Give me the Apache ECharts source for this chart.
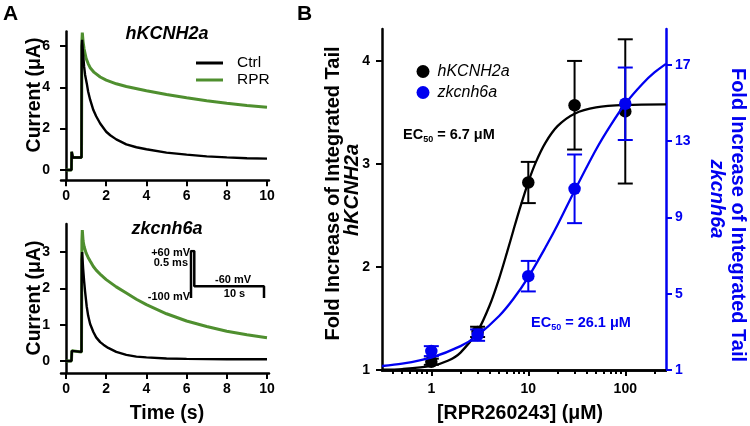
<!DOCTYPE html>
<html><head><meta charset="utf-8">
<script src="https://cdn.jsdelivr.net/npm/echarts@6/dist/echarts.min.js"></script>
<style>html,body{margin:0;padding:0;background:#fff}#c{width:750px;height:426px}</style>
</head><body><div id="c"></div>
<script>
const FONT = '"Liberation Sans", Arial, sans-serif';
const BLUE = '#0000f0', GREEN = '#4f8f2f';

// Panel A, hKCNH2a traces (time s, current uA)
const tCtrlA = [0,0.27,0.28,0.31,0.34,0.77,0.78,0.8,0.85,0.9,0.95,1.03,1.1,1.2,1.36,1.5,1.7,2.0,2.2,2.5,3.0,3.5,4,5,6,7,8,9,10];
const ctrlA  = [0,0,0.88,0.8,0.6,0.6,6.0,6.3,5.6,5.0,4.6,4.2,3.8,3.4,2.9,2.6,2.25,1.85,1.68,1.48,1.24,1.1,1.0,0.84,0.74,0.66,0.61,0.57,0.55];
const tRprA  = [0,0.27,0.28,0.31,0.34,0.77,0.79,0.81,0.85,0.9,1.0,1.1,1.2,1.4,1.7,2.0,2.5,3,4,5,6,7,8,9,10];
const rprA   = [0,0,0.88,0.8,0.6,0.6,6.2,6.65,6.2,5.85,5.4,5.15,4.95,4.72,4.5,4.35,4.17,4.04,3.83,3.65,3.49,3.35,3.23,3.12,3.03];
// Panel A, zkcnh6a traces
const tCtrlB = [0,0.27,0.29,0.33,0.77,0.78,0.8,0.85,0.9,0.95,1.03,1.1,1.2,1.36,1.5,1.7,1.86,2.1,2.5,3.0,3.5,4,5,6,8,10];
const ctrlB  = [0,0,0.28,0.25,0.25,2.8,3.0,2.55,2.2,1.9,1.5,1.25,1.02,0.8,0.65,0.52,0.45,0.36,0.25,0.17,0.12,0.1,0.07,0.06,0.05,0.05];
const tRprB  = [0,0.27,0.29,0.33,0.77,0.79,0.81,0.85,0.9,1.0,1.1,1.2,1.36,1.5,1.75,2.0,2.5,3,3.5,4,5,6,7,8,9,10];
const rprB   = [0,0,0.28,0.25,0.25,3.3,3.6,3.3,3.15,2.97,2.85,2.75,2.6,2.5,2.36,2.24,2.04,1.87,1.7,1.55,1.3,1.1,0.95,0.82,0.72,0.64];
// voltage protocol inset (schematic time, mV)
const protoTime = [0,0,0.45,0.45,10,10];
const protoVolt = [-100,60,60,-60,-60,-100];

// Panel B dose response
const conc  = [1,3,10,30,100];
const hMean = [1.08,1.37,2.82,3.57,3.51];
const hErr  = [0.03,0.05,0.2,0.43,0.7];
const zMean = [1.99,2.83,5.92,10.5,14.96];
const zErr  = [0.26,0.3,0.8,1.8,1.9];
const hFitConc = [0.31,0.5,1,1.5,2,3,4,5,6,7,8,10,12,15,20,30,50,100,263];
const hFit     = [1.003,1.009,1.039,1.092,1.169,1.377,1.628,1.888,2.134,2.352,2.538,2.824,3.02,3.205,3.367,3.488,3.549,3.573,3.579];
const zFitConc = [0.31,0.5,1,2,3,5,7,10,15,20,30,50,70,100,150,200,263];
const zFit     = [1.21,1.33,1.65,2.25,2.82,3.83,4.72,5.87,7.42,8.6,10.4,12.56,13.8,14.96,16.0,16.6,17.05];

// ticks
const xTicksA = [0,2,4,6,8,10];
const yTicksATop = [0,2,4,6];
const yTicksABot = [0,1,2,3];
const xMajorB = [1,10,100];
const xMinorB = [0.4,0.5,0.6,0.7,0.8,0.9,2,3,4,5,6,7,8,9,20,30,40,50,60,70,80,90,200];
const yTicksBL = [1,2,3,4];
const yTicksBR = [1,5,9,13,17];

const zip = (a,b) => a.map((v,i)=>[v,b[i]]);
const lg = v => Math.log10(v);

function axis(o, color, ticks, tickLen, labelMargin, showLabel){
  color = color || '#000';
  return Object.assign({
    type:'value', splitLine:{show:false},
    axisLine:{show:true, onZero:false, lineStyle:{color:color, width:2.5}},
    axisTick:{show:true, length:tickLen, customValues:ticks, lineStyle:{color:color, width:2}},
    axisLabel:{show:showLabel!==false, customValues:ticks, margin:labelMargin, color:color, fontFamily:FONT, fontWeight:'bold', fontSize:14}
  }, o);
}

const chart = echarts.init(document.getElementById('c'), null, {renderer:'canvas'});

function errSeries(color, yIdx, mean, err){
  return {
    type:'custom', xAxisIndex:2, yAxisIndex:yIdx, z:3,
    data: conc.map((c,i)=>[lg(c), mean[i]-err[i], mean[i]+err[i]]),
    encode:{x:0, y:[1,2]},
    renderItem:(params, api)=>{
      const x = api.value(0);
      const a = api.coord([x, api.value(1)]), b = api.coord([x, api.value(2)]);
      const hw = 7.5, st = {stroke:color, lineWidth:2};
      return {type:'group', children:[
        {type:'line', shape:{x1:a[0],y1:a[1],x2:b[0],y2:b[1]}, style:st},
        {type:'line', shape:{x1:a[0]-hw,y1:a[1],x2:a[0]+hw,y2:a[1]}, style:st},
        {type:'line', shape:{x1:b[0]-hw,y1:b[1],x2:b[0]+hw,y2:b[1]}, style:st}
      ]};
    }
  };
}

function trace(name, color, width, xi, t, v){
  return {name:name, type:'line', xAxisIndex:xi, yAxisIndex:xi, color:color,
    data:zip(t,v), showSymbol:false, symbol:'none', lineStyle:{color:color, width:width}};
}

const option = {
  animation:false,
  grid:[
    {left:61, top:31.5, width:208, height:148.8},
    {left:61, top:224, width:208, height:149},
    {left:382, top:29, width:284, height:341},
    {left:191, top:251, width:73, height:47}
  ],
  xAxis:[
    axis({gridIndex:0, min:-0.25, max:10.1}, '#000', xTicksA, 6, 9),
    axis({gridIndex:1, min:-0.25, max:10.1}, '#000', xTicksA, 6, 9),
    axis({gridIndex:2, min:lg(0.31), max:lg(263), position:'bottom',
      axisLabel:{customValues:xMajorB.map(lg), margin:12, color:'#000', fontFamily:FONT, fontWeight:'bold', fontSize:14,
        formatter:v=>String(Math.round(Math.pow(10,v)))}}, '#000', xMajorB.map(lg), 6, 12),
    axis({gridIndex:2, min:lg(0.31), max:lg(263), position:'bottom',
      axisLine:{show:true, onZero:false, lineStyle:{color:'#000', width:2.5}}}, '#000', xMinorB.map(lg), 4, 12, false),
    {type:'value', gridIndex:3, min:0, max:10, show:false}
  ],
  yAxis:[
    axis({gridIndex:0, min:-0.5, max:6.7, axisLine:{show:true, onZero:true, lineStyle:{color:'#000', width:2.5}}}, '#000', yTicksATop, 6, 11),
    axis({gridIndex:1, min:-0.33, max:3.77, axisLine:{show:true, onZero:true, lineStyle:{color:'#000', width:2.5}}}, '#000', yTicksABot, 6, 11),
    axis({gridIndex:2, min:1, max:4.31, position:'left'}, '#000', yTicksBL, 6, 12),
    axis({gridIndex:2, min:1, max:18.88, position:'right'}, BLUE, yTicksBR, 6, 9),
    {type:'value', gridIndex:3, min:-100, max:60, show:false}
  ],
  legend:[
    {data:['Ctrl','RPR'], orient:'vertical', left:196, top:55, padding:0, itemWidth:27, itemHeight:3, itemGap:1,
      icon:'rect', selectedMode:false, textStyle:{fontFamily:FONT, fontSize:15.5, color:'#000', padding:[0,0,0,9]}},
    {data:['hKCNH2a','zkcnh6a'], orient:'vertical', left:416.5, top:63.5, padding:0, itemWidth:13, itemHeight:13, itemGap:5,
      icon:'circle', selectedMode:false, textStyle:{fontFamily:FONT, fontSize:16, fontStyle:'italic', color:'#000', padding:[0,0,0,3]}}
  ],
  series:[
    trace('RPR', GREEN, 3, 0, tRprA, rprA),
    trace('Ctrl', '#000', 2.4, 0, tCtrlA, ctrlA),
    trace('RPR', GREEN, 3, 1, tRprB, rprB),
    trace('Ctrl', '#000', 2.4, 1, tCtrlB, ctrlB),
    {type:'line', xAxisIndex:4, yAxisIndex:4, data:zip(protoTime, protoVolt), showSymbol:false, symbol:'none',
      lineStyle:{color:'#000', width:2.5}},
    {name:'hFit', type:'line', xAxisIndex:2, yAxisIndex:2, data:zip(hFitConc.map(lg), hFit), smooth:0.3,
      showSymbol:false, symbol:'none', lineStyle:{color:'#000', width:2.3}},
    errSeries('#000', 2, hMean, hErr),
    {name:'hKCNH2a', type:'scatter', xAxisIndex:2, yAxisIndex:2, color:'#000', symbolSize:12.5, z:4,
      data:zip(conc.map(lg), hMean), itemStyle:{color:'#000', opacity:1}},
    {name:'zFit', type:'line', xAxisIndex:2, yAxisIndex:3, data:zip(zFitConc.map(lg), zFit), smooth:0.3,
      showSymbol:false, symbol:'none', lineStyle:{color:BLUE, width:2.3}, z:5},
    Object.assign(errSeries(BLUE, 3, zMean, zErr), {z:6}),
    {name:'zkcnh6a', type:'scatter', xAxisIndex:2, yAxisIndex:3, color:BLUE, symbolSize:12.5, z:7,
      data:zip(conc.map(lg), zMean), itemStyle:{color:BLUE, opacity:1}}
  ],
  graphic:[
    {type:'text', left:3, top:4, style:{text:'A', fontFamily:FONT, fontWeight:'bold', fontSize:21, fill:'#000'}},
    {type:'text', left:297, top:4, style:{text:'B', fontFamily:FONT, fontWeight:'bold', fontSize:21, fill:'#000'}},
    {type:'text', x:167, y:34.5, style:{text:'hKCNH2a', fontFamily:FONT, fontWeight:'bold', fontStyle:'italic', fontSize:18, fill:'#000', align:'center', verticalAlign:'middle'}},
    {type:'text', x:167, y:229.5, style:{text:'zkcnh6a', fontFamily:FONT, fontWeight:'bold', fontStyle:'italic', fontSize:18, fill:'#000', align:'center', verticalAlign:'middle'}},
    {type:'text', x:34.5, y:95, rotation:Math.PI/2, style:{text:'Current (μA)', fontFamily:FONT, fontWeight:'bold', fontSize:19.5, fill:'#000', align:'center', verticalAlign:'middle'}},
    {type:'text', x:34.5, y:298, rotation:Math.PI/2, style:{text:'Current (μA)', fontFamily:FONT, fontWeight:'bold', fontSize:19.5, fill:'#000', align:'center', verticalAlign:'middle'}},
    {type:'text', x:167, y:414, style:{text:'Time (s)', fontFamily:FONT, fontWeight:'bold', fontSize:19.5, fill:'#000', align:'center', verticalAlign:'middle'}},
    {type:'text', x:190, y:252.5, style:{text:'+60 mV', fontFamily:FONT, fontWeight:'bold', fontSize:11, fill:'#000', align:'right', verticalAlign:'middle'}},
    {type:'text', x:188, y:262.5, style:{text:'0.5 ms', fontFamily:FONT, fontWeight:'bold', fontSize:11, fill:'#000', align:'right', verticalAlign:'middle'}},
    {type:'text', x:190, y:297, style:{text:'-100 mV', fontFamily:FONT, fontWeight:'bold', fontSize:11, fill:'#000', align:'right', verticalAlign:'middle'}},
    {type:'text', x:233, y:280, style:{text:'-60 mV', fontFamily:FONT, fontWeight:'bold', fontSize:11, fill:'#000', align:'center', verticalAlign:'middle'}},
    {type:'text', x:234.5, y:294, style:{text:'10 s', fontFamily:FONT, fontWeight:'bold', fontSize:11, fill:'#000', align:'center', verticalAlign:'middle'}},
    {type:'text', x:333, y:193.5, rotation:Math.PI/2, style:{text:'Fold Increase of Integrated Tail', fontFamily:FONT, fontWeight:'bold', fontSize:20, fill:'#000', align:'center', verticalAlign:'middle'}},
    {type:'text', x:352, y:190, rotation:Math.PI/2, style:{text:'hKCNH2a', fontFamily:FONT, fontWeight:'bold', fontStyle:'italic', fontSize:20, fill:'#000', align:'center', verticalAlign:'middle'}},
    {type:'text', x:738, y:215, rotation:-Math.PI/2, style:{text:'Fold Increase of Integrated Tail', fontFamily:FONT, fontWeight:'bold', fontSize:20, fill:BLUE, align:'center', verticalAlign:'middle'}},
    {type:'text', x:717, y:199, rotation:-Math.PI/2, style:{text:'zkcnh6a', fontFamily:FONT, fontWeight:'bold', fontStyle:'italic', fontSize:20, fill:BLUE, align:'center', verticalAlign:'middle'}},
    {type:'text', x:520, y:414, style:{text:'[RPR260243] (μM)', fontFamily:FONT, fontWeight:'bold', fontSize:19.5, fill:'#000', align:'center', verticalAlign:'middle'}},
    {type:'text', x:403, y:135, style:{text:'EC{s|50} = 6.7 μM', fontFamily:FONT, fontWeight:'bold', fontSize:14.5, lineHeight:18, fill:'#000', align:'left', verticalAlign:'middle',
      rich:{s:{fontFamily:FONT, fontWeight:'bold', fontSize:9, lineHeight:9, verticalAlign:'bottom', fill:'#000'}}}},
    {type:'text', x:531, y:323, style:{text:'EC{s|50} = 26.1 μM', fontFamily:FONT, fontWeight:'bold', fontSize:14.5, lineHeight:18, fill:BLUE, align:'left', verticalAlign:'middle',
      rich:{s:{fontFamily:FONT, fontWeight:'bold', fontSize:9, lineHeight:9, verticalAlign:'bottom', fill:BLUE}}}}
  ]
};
chart.setOption(option);
</script></body></html>
